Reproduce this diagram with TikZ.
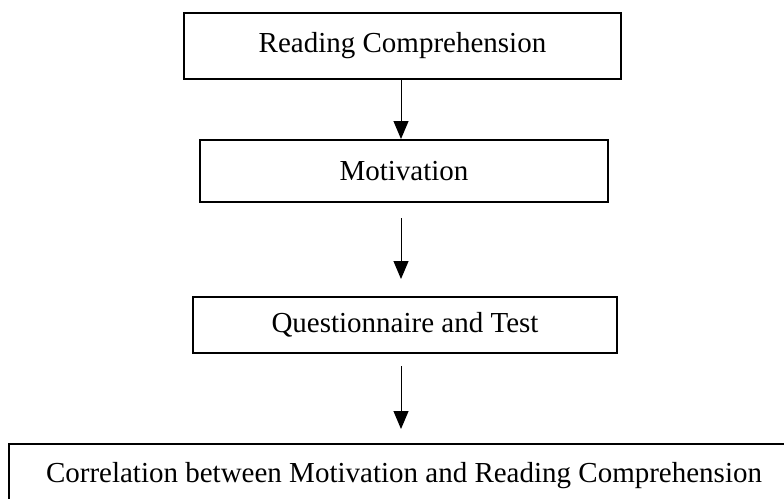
\documentclass[tikz,border=0pt]{standalone}
\usepackage{fontspec}
\setmainfont{Liberation Serif}
\usetikzlibrary{arrows.meta}
\begin{document}
\begin{tikzpicture}[x=1pt,y=-1pt,
  box/.style={draw, line width=2pt, inner sep=0pt, align=center,
    font=\fontsize{29}{35}\selectfont},
  arr/.style={line width=1pt, -{Triangle[width=15pt,length=18pt]}}]
\useasboundingbox (0,0) rectangle (784,498);
\clip (0,0) rectangle (784,498);
\coordinate (ax) at (401,0);
\node[box, minimum width=437pt, minimum height=66pt] (b1) at (402.5,46) {Reading Comprehension};
\node[box, minimum width=408pt, minimum height=62pt] (b2) at (404,171) {Motivation};
\node[box, minimum width=424pt, minimum height=56pt] (b3) at (405,325) {Questionnaire and Test};
\node[box, minimum width=790pt, minimum height=64pt, anchor=north west] (b4) at (8,443) {Correlation between Motivation and Reading Comprehension};
\draw[arr] (b1.south -| ax) -- (b2.north -| ax);
\draw[arr, shorten <=15pt, shorten >=17pt] (b2.south -| ax) -- (b3.north -| ax);
\draw[arr, shorten <=12pt, shorten >=14pt] (b3.south -| ax) -- (b4.north -| ax);
\end{tikzpicture}
\end{document}
